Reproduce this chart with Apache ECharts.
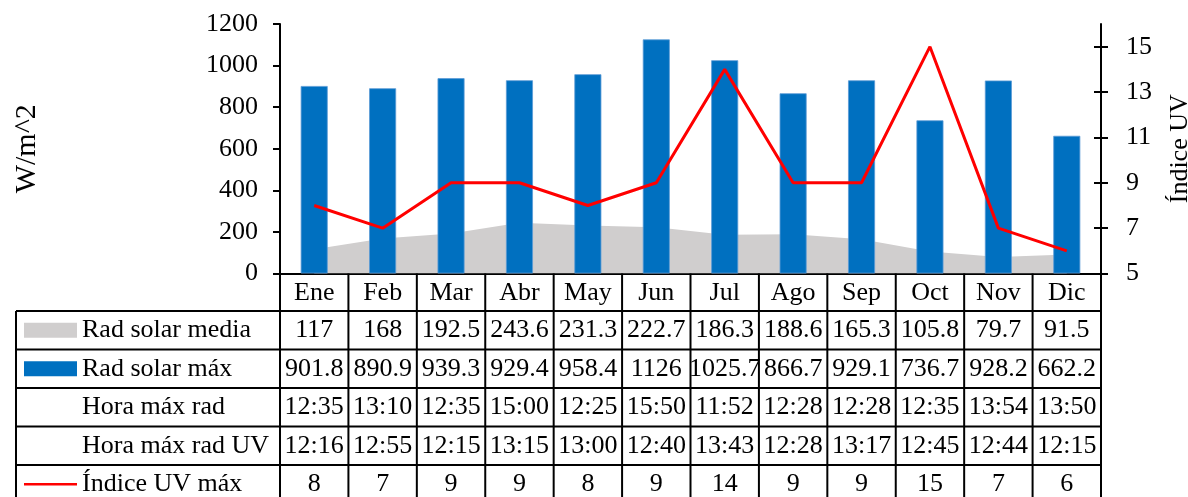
<!DOCTYPE html>
<html>
<head>
<meta charset="utf-8">
<script src="https://cdn.jsdelivr.net/npm/echarts@6/dist/echarts.min.js"></script>
<style>
  html, body { margin: 0; padding: 0; background: #fff; }
  #chart { width: 1188px; height: 497px; }
</style>
</head>
<body>
<div id="chart"></div>
<script>
// datos
const meses = ['Ene', 'Feb', 'Mar', 'Abr', 'May', 'Jun', 'Jul', 'Ago', 'Sep', 'Oct', 'Nov', 'Dic']
const radSolarMedia = [117, 168, 192.5, 243.6, 231.3, 222.7, 186.3, 188.6, 165.3, 105.8, 79.7, 91.5]
const radSolarMax = [901.8, 890.9, 939.3, 929.4, 958.4, 1126, 1025.7, 866.7, 929.1, 736.7, 928.2, 662.2]
const horaMaxRad = ['12:35', '13:10', '12:35', '15:00', '12:25', '15:50', '11:52', '12:28', '12:28', '12:35', '13:54', '13:50']
const horaMaxRadUV = ['12:16', '12:55', '12:15', '13:15', '13:00', '12:40', '13:43', '12:28', '13:17', '12:45', '12:44', '12:15']
const indiceUVMax = [8, 7, 9, 9, 8, 9, 14, 9, 9, 15, 7, 6]
const ticksIzq = [0, 200, 400, 600, 800, 1000, 1200]
const ticksDer = [5, 7, 9, 11, 13, 15]

const FONT = "'Liberation Serif', 'Times New Roman', serif"
const GRIS = '#d0cece'
const AZUL = '#0070c0'
const ROJO = '#ff0000'
const TAM = 26

const chart = echarts.init(document.getElementById('chart'))

const option = {
  animation: false,
  textStyle: { fontFamily: FONT },
  grid: { left: 280, right: 87, top: 24, bottom: 223.5, outerBoundsMode: 'none', containLabel: false },
  xAxis: {
    type: 'category',
    data: meses,
    axisLine: { lineStyle: { color: '#000', width: 2 } },
    axisTick: { show: false },
    axisLabel: { color: '#000', fontSize: TAM, fontFamily: FONT, margin: 7 },
  },
  yAxis: [
    {
      type: 'value',
      min: 0,
      max: 1200,
      interval: 200,
      name: 'W/m^2',
      nameLocation: 'middle',
      nameGap: 238,
      nameRotate: 90,
      nameTextStyle: { color: '#000', fontSize: 30, fontFamily: FONT },
      axisLine: { show: true, lineStyle: { color: '#000', width: 2 } },
      axisTick: { show: true, length: 7, lineStyle: { color: '#000', width: 2 } },
      axisLabel: {
        color: '#000', fontSize: TAM, fontFamily: FONT, margin: 22, customValues: ticksIzq,
        formatter: (v) => String(v),
      },
      splitLine: { show: false },
    },
    {
      type: 'value',
      position: 'right',
      min: 5,
      max: 16,
      name: 'Índice UV',
      nameLocation: 'middle',
      nameGap: 66,
      nameRotate: 90,
      nameTextStyle: { color: '#000', fontSize: 26, fontFamily: FONT },
      axisLine: { show: true, lineStyle: { color: '#000', width: 2 } },
      axisTick: { show: true, length: 7, customValues: ticksDer, lineStyle: { color: '#000', width: 2 } },
      axisLabel: { color: '#000', fontSize: TAM, fontFamily: FONT, margin: 25, customValues: ticksDer },
      splitLine: { show: false },
    },
    {
      // marcas hacia dentro del eje derecho (cruzadas)
      type: 'value',
      position: 'right',
      min: 5,
      max: 16,
      axisLine: { show: false },
      axisTick: { show: true, inside: true, length: 7, customValues: ticksDer, lineStyle: { color: '#000', width: 2 } },
      axisLabel: { show: false },
      splitLine: { show: false },
    },
  ],
  series: [
    {
      name: 'Rad solar media',
      type: 'line',
      data: radSolarMedia,
      symbol: 'none',
      lineStyle: { width: 0 },
      areaStyle: { color: GRIS, opacity: 1 },
      z: 1,
    },
    {
      name: 'Rad solar máx',
      type: 'bar',
      data: radSolarMax,
      barWidth: 27,
      itemStyle: { color: AZUL, borderColor: '#5b9bd5', borderWidth: 0.8 },
      z: 2,
    },
    {
      name: 'Índice UV máx',
      type: 'line',
      yAxisIndex: 1,
      data: indiceUVMax,
      symbol: 'none',
      lineStyle: { color: ROJO, width: 3 },
      z: 3,
    },
  ],
}
chart.setOption(option)

// tabla de datos bajo el gráfico
function buildTable() {
  const filas = [
    { nombre: 'Rad solar media', valores: radSolarMedia, clave: 'area' },
    { nombre: 'Rad solar máx', valores: radSolarMax, clave: 'bar' },
    { nombre: 'Hora máx rad', valores: horaMaxRad },
    { nombre: 'Hora máx rad UV', valores: horaMaxRadUV },
    { nombre: 'Índice UV máx', valores: indiceUVMax, clave: 'line' },
  ]
  const centros = meses.map((m, i) => chart.convertToPixel({ xAxisIndex: 0 }, i))
  const ejeY = chart.convertToPixel({ yAxisIndex: 0 }, 0)
  const paso = centros[1] - centros[0]
  const izq = centros[0] - paso / 2
  const der = centros[centros.length - 1] + paso / 2
  const tablaIzq = 16
  const top = 311
  const alto = 38.5
  const fondo = 497
  const els = []
  const linea = (x1, y1, x2, y2) => ({
    type: 'line',
    shape: { x1, y1, x2, y2 },
    style: { stroke: '#000', lineWidth: 2 },
    z: 10,
  })
  // lineas horizontales
  for (let r = 0; r < filas.length; r++) {
    els.push(linea(tablaIzq, top + r * alto, der, top + r * alto))
  }
  // lineas verticales (desde el eje x, incluye la fila de meses)
  els.push(linea(tablaIzq, top, tablaIzq, fondo))
  for (let i = 0; i <= meses.length; i++) {
    const x = izq + i * paso
    els.push(linea(x, ejeY, x, fondo))
  }
  filas.forEach((f, r) => {
    const cy = top + r * alto + alto / 2
    if (f.clave === 'area') {
      els.push({ type: 'rect', shape: { x: 24, y: cy - 7.5, width: 53, height: 15 }, style: { fill: GRIS }, z: 10 })
    } else if (f.clave === 'bar') {
      els.push({ type: 'rect', shape: { x: 24, y: cy - 7.5, width: 53, height: 15 }, style: { fill: AZUL }, z: 10 })
    } else if (f.clave === 'line') {
      els.push({ type: 'line', shape: { x1: 24, y1: cy, x2: 77, y2: cy }, style: { stroke: ROJO, lineWidth: 2.5 }, z: 10 })
    }
    els.push({
      type: 'text',
      x: 82,
      y: cy,
      style: { text: f.nombre, font: TAM + 'px ' + FONT, fill: '#000', textVerticalAlign: 'middle', textAlign: 'left' },
      z: 10,
    })
    f.valores.forEach((v, i) => {
      els.push({
        type: 'text',
        x: centros[i],
        y: cy,
        style: { text: String(v), font: TAM + 'px ' + FONT, fill: '#000', textVerticalAlign: 'middle', textAlign: 'center' },
        z: 10,
      })
    })
  })
  chart.setOption({ graphic: { elements: els } })
}
buildTable()
</script>
</body>
</html>
